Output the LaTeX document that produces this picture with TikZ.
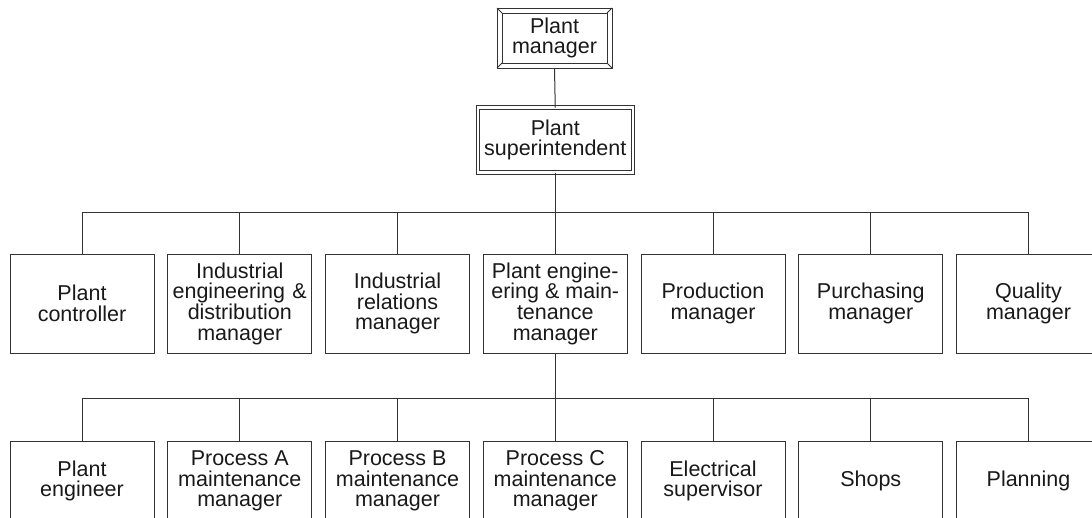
\documentclass[tikz,border=0pt]{standalone}
\usepackage{fontspec}
\setmainfont{Liberation Sans}
\begin{document}
\begin{tikzpicture}[x=1pt,y=-1pt,
  every node/.style={inner sep=0pt, outer sep=0pt},
  wire/.style={draw=black!80, line width=1pt},
  boxbase/.style={draw=black!80, line width=1pt, align=center, text=black!90,
    font=\fontsize{21.5}{20.7}\selectfont},
  unitbox/.style={boxbase, minimum width=144pt, minimum height=99pt},
  subbox/.style={boxbase, minimum width=144pt, minimum height=80pt},
  supbox/.style={boxbase, double=white, double distance=2.5pt,
    minimum width=155pt, minimum height=65pt},
  headbox/.style={boxbase, minimum width=115pt, minimum height=60pt}]
\path[use as bounding box] (0,0) rectangle (1092,517);
\clip (0,0) rectangle (1092,517);

% top of the chart
\node[headbox] (pm) at (554.5,38) {Plant\\manager};
\draw[wire] ([shift={(5,5)}]pm.north west) rectangle ([shift={(-5,-5)}]pm.south east);
\draw[wire] (pm.north west) -- ++(5,5);
\draw[wire] (pm.north east) -- ++(-5,5);
\draw[wire] (pm.south west) -- ++(5,-5);
\draw[wire] (pm.south east) -- ++(-5,-5);

\node[supbox] (sup) at (555.25,140) {Plant\\superintendent};
\draw[wire] (pm.south) -- (sup.north);

% department heads
\node[unitbox] (d1) at (82,303.5)     {Plant\\controller};
\node[unitbox] (d2) at (239.75,303.5) {Industrial\\engineering\hspace{0.35em}\&\\distribution\\manager};
\node[unitbox] (d3) at (397.5,303.5)  {Industrial\\relations\\manager};
\node[unitbox] (d4) at (555.25,303.5) {Plant engine-\\ering \& main-\\tenance\\manager};
\node[unitbox] (d5) at (713,303.5)    {Production\\manager};
\node[unitbox] (d6) at (870.75,303.5) {Purchasing\\manager};
\node[unitbox] (d7) at (1028.5,303.5) {Quality\\manager};

\coordinate (bus1) at (555.25,212);
\draw[wire] (sup.south) -- (bus1);
\draw[wire] (d1.north |- bus1) -- (d7.north |- bus1);
\foreach \i in {1,...,7} \draw[wire] (d\i.north) -- (d\i.north |- bus1);

% maintenance units
\node[subbox] (m1) at (82,481)     {Plant\\engineer};
\node[subbox] (m2) at (239.75,481) {Process A\\maintenance\\manager};
\node[subbox] (m3) at (397.5,481)  {Process B\\maintenance\\manager};
\node[subbox] (m4) at (555.25,481) {Process C\\maintenance\\manager};
\node[subbox] (m5) at (713,481)    {Electrical\\supervisor};
\node[subbox] (m6) at (870.75,481) {Shops};
\node[subbox] (m7) at (1028.5,481) {Planning};

\coordinate (bus2) at (555.25,398);
\draw[wire] (d4.south) -- (bus2);
\draw[wire] (m1.north |- bus2) -- (m7.north |- bus2);
\foreach \i in {1,...,7} \draw[wire] (m\i.north) -- (m\i.north |- bus2);
\end{tikzpicture}
\end{document}
